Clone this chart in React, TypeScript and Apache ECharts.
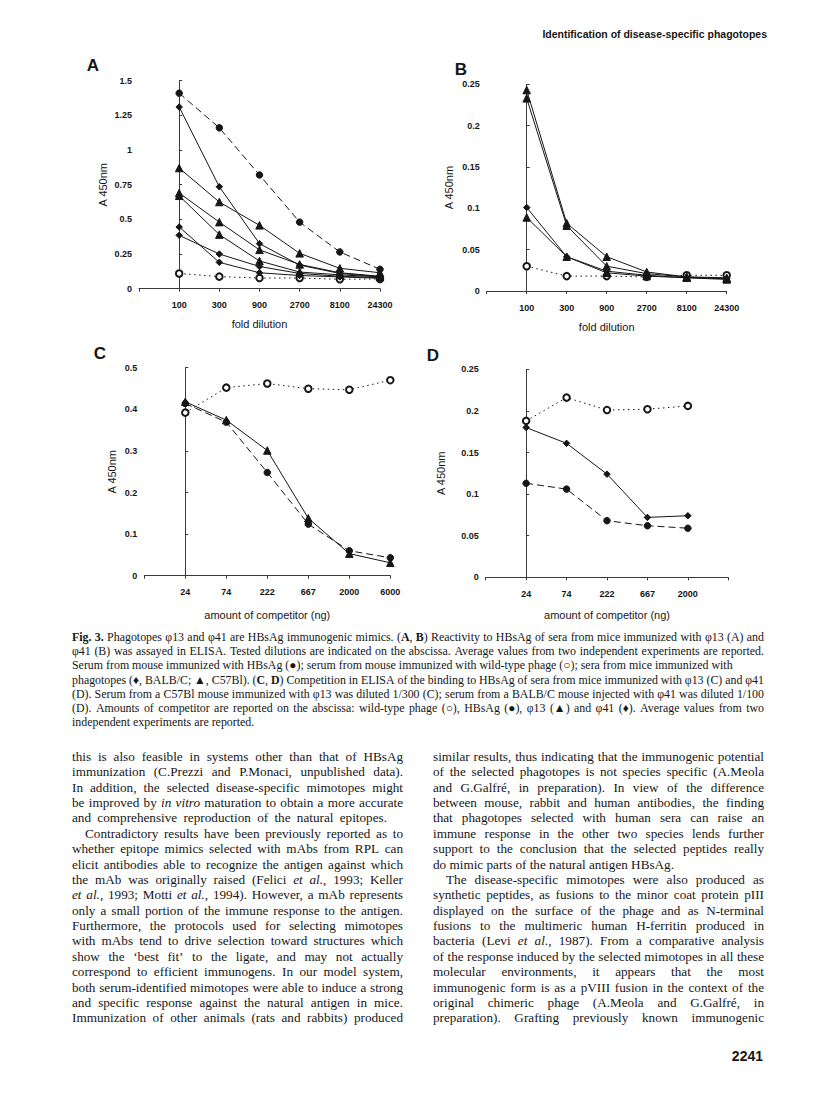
import React, { useEffect, useRef } from 'react';
import * as echarts from 'echarts';

// ---------- data ----------
const dilutions = ['100', '300', '900', '2700', '8100', '24300'];
const competitorC = ['24', '74', '222', '667', '2000', '6000'];
const competitorD = ['24', '74', '222', '667', '2000'];

// Panel A (phi13 immunized sera)
const aHBsAg = [1.41, 1.16, 0.82, 0.48, 0.265, 0.14];
const aWildType = [0.11, 0.087, 0.077, 0.077, 0.068, 0.07];
const aC57Bl1 = [0.87, 0.625, 0.457, 0.255, 0.147, 0.115];
const aC57Bl2 = [0.69, 0.48, 0.28, 0.175, 0.115, 0.09];
const aC57Bl3 = [0.67, 0.39, 0.2, 0.12, 0.1, 0.085];
const aBALB1 = [1.31, 0.735, 0.325, 0.17, 0.11, 0.085];
const aBALB2 = [0.445, 0.19, 0.115, 0.095, 0.085, 0.075];
const aBALB3 = [0.385, 0.25, 0.16, 0.11, 0.09, 0.08];

// Panel B (phi41 immunized sera)
const bWildType = [0.03, 0.018, 0.018, 0.017, 0.019, 0.019];
const bC57Bl1 = [0.243, 0.082, 0.0415, 0.023, 0.017, 0.016];
const bC57Bl2 = [0.233, 0.079, 0.03, 0.021, 0.017, 0.015];
const bC57Bl3 = [0.089, 0.0415, 0.022, 0.018, 0.016, 0.014];
const bBALB1 = [0.101, 0.0415, 0.024, 0.019, 0.016, 0.015];

// Panel C (competition, phi13)
const cWildType = [0.392, 0.452, 0.462, 0.4495, 0.447, 0.47];
const cHBsAg = [0.414, 0.369, 0.248, 0.124, 0.06, 0.043];
const cPhi13 = [0.418, 0.374, 0.301, 0.138, 0.053, 0.031];

// Panel D (competition, phi41)
const dWildType = [0.188, 0.216, 0.201, 0.202, 0.206];
const dHBsAg = [0.113, 0.106, 0.068, 0.062, 0.059];
const dPhi41 = [0.18, 0.161, 0.124, 0.072, 0.074];

// ---------- page text ----------
const headerText = 'Identification of disease-specific phagotopes';
const pageNumber = '2241';
const panelLetters = ['A', 'B', 'C', 'D'];

type TextLine = { text: string; indent?: number; fit?: number | 'natural' };

const captionLines: TextLine[] = [
  { text: '*Fig.* *3.* Phagotopes φ13 and φ41 are HBsAg immunogenic mimics. (*A*, *B*) Reactivity to HBsAg of sera from mice immunized with φ13 (A) and' },
  { text: 'φ41 (B) was assayed in ELISA. Tested dilutions are indicated on the abscissa. Average values from two independent experiments are reported.' },
  { text: 'Serum from mouse immunized with HBsAg (●); serum from mouse immunized with wild-type phage (○); sera from mice immunized with', fit: 'natural' },
  { text: 'phagotopes (♦, BALB/C; ▲, C57Bl). (*C*, *D*) Competition in ELISA of the binding to HBsAg of sera from mice immunized with φ13 (C) and φ41' },
  { text: '(D). Serum from a C57Bl mouse immunized with φ13 was diluted 1/300 (C); serum from a BALB/C mouse injected with φ41 was diluted 1/100' },
  { text: '(D). Amounts of competitor are reported on the abscissa: wild-type phage (○), HBsAg (●), φ13 (▲) and φ41 (♦). Average values from two' },
  { text: 'independent experiments are reported.', fit: 'natural' },
];

const bodyLeft: TextLine[] = [
  { text: 'this is also feasible in systems other than that of HBsAg' },
  { text: 'immunization (C.Prezzi and P.Monaci, unpublished data).' },
  { text: 'In addition, the selected disease-specific mimotopes might' },
  { text: 'be improved by _in_ _vitro_ maturation to obtain a more accurate' },
  { text: 'and comprehensive reproduction of the natural epitopes.', fit: 315 },
  { text: 'Contradictory results have been previously reported as to', indent: 13 },
  { text: 'whether epitope mimics selected with mAbs from RPL can' },
  { text: 'elicit antibodies able to recognize the antigen against which' },
  { text: 'the mAb was originally raised (Felici _et_ _al._, 1993; Keller' },
  { text: '_et_ _al._, 1993; Motti _et_ _al._, 1994). However, a mAb represents' },
  { text: 'only a small portion of the immune response to the antigen.' },
  { text: 'Furthermore, the protocols used for selecting mimotopes' },
  { text: 'with mAbs tend to drive selection toward structures which' },
  { text: 'show the ‘best fit’ to the ligate, and may not actually' },
  { text: 'correspond to efficient immunogens. In our model system,' },
  { text: 'both serum-identified mimotopes were able to induce a strong' },
  { text: 'and specific response against the natural antigen in mice.' },
  { text: 'Immunization of other animals (rats and rabbits) produced' },
];

const bodyRight: TextLine[] = [
  { text: 'similar results, thus indicating that the immunogenic potential' },
  { text: 'of the selected phagotopes is not species specific (A.Meola' },
  { text: 'and G.Galfré, in preparation). In view of the difference' },
  { text: 'between mouse, rabbit and human antibodies, the finding' },
  { text: 'that phagotopes selected with human sera can raise an' },
  { text: 'immune response in the other two species lends further' },
  { text: 'support to the conclusion that the selected peptides really' },
  { text: 'do mimic parts of the natural antigen HBsAg.', fit: 'natural' },
  { text: 'The disease-specific mimotopes were also produced as', indent: 13 },
  { text: 'synthetic peptides, as fusions to the minor coat protein pIII' },
  { text: 'displayed on the surface of the phage and as N-terminal' },
  { text: 'fusions to the multimeric human H-ferritin produced in' },
  { text: 'bacteria (Levi _et_ _al._, 1987). From a comparative analysis' },
  { text: 'of the response induced by the selected mimotopes in all these' },
  { text: 'molecular environments, it appears that the most' },
  { text: 'immunogenic form is as a pVIII fusion in the context of the' },
  { text: 'original chimeric phage (A.Meola and G.Galfré, in' },
  { text: 'preparation). Grafting previously known immunogenic' },
];

// ---------- styling ----------
const INK = '#161616';
const AXIS = '#3a3a3a';
const SANS = '"Liberation Sans", Arial, Helvetica, sans-serif';
const SERIF_NAME = '"Liberation Serif"';
const SERIF = '"Liberation Serif", "Times New Roman", serif';

type Seg = { t: string; b: boolean; i: boolean };

function parseWord(w: string): Seg[] {
  return w
    .split(/(\*[^*]+\*|_[^_]+_)/)
    .filter((p) => p.length > 0)
    .map((p) => {
      if (p.length > 2 && p[0] === '*' && p[p.length - 1] === '*') return { t: p.slice(1, -1), b: true, i: false };
      if (p.length > 2 && p[0] === '_' && p[p.length - 1] === '_') return { t: p.slice(1, -1), b: false, i: true };
      return { t: p, b: false, i: false };
    });
}

function layoutLine(
  ctx: CanvasRenderingContext2D,
  line: TextLine,
  x0: number,
  width: number,
  y: number,
  fs: number
) {
  const words = line.text.split(' ').filter(Boolean).map(parseWord);
  const fontOf = (s: Seg) => `${s.i ? 'italic' : 'normal'} ${s.b ? 'bold' : 'normal'} ${fs}px ${SERIF_NAME}`;
  const measure = (s: Seg) => {
    ctx.font = fontOf(s);
    return ctx.measureText(s.t).width;
  };
  ctx.font = fontOf({ t: ' ', b: false, i: false });
  const space = ctx.measureText(' ').width;
  const indent = line.indent || 0;
  const avail = (typeof line.fit === 'number' ? line.fit : width) - indent;
  const wordW = words.map((segs) => segs.reduce((a, s) => a + measure(s), 0));
  const total = wordW.reduce((a, b) => a + b, 0);
  const n = words.length;
  let gap = space;
  if (line.fit !== 'natural' && n > 1) gap = (avail - total) / (n - 1);
  let scale = 1;
  const minGap = space * 0.6;
  if (gap < minGap) {
    gap = minGap;
    scale = avail / (total + gap * (n - 1));
  }
  const children: any[] = [];
  let x = 0;
  words.forEach((segs) => {
    segs.forEach((s) => {
      children.push({
        type: 'text',
        x,
        y: 0,
        silent: true,
        style: {
          text: s.t,
          fill: INK,
          fontSize: fs,
          fontFamily: SERIF,
          fontWeight: s.b ? 'bold' : 'normal',
          fontStyle: s.i ? 'italic' : 'normal',
          align: 'left',
          textAlign: 'left',
          verticalAlign: 'middle',
          textVerticalAlign: 'middle',
        },
      });
      x += measure(s);
    });
    x += gap;
  });
  return { type: 'group', x: x0 + indent, y, scaleX: scale, silent: true, children };
}

function sansText(text: string, x: number, y: number, fs: number, weight: string, align: string) {
  return {
    type: 'text',
    x,
    y,
    silent: true,
    style: {
      text,
      fill: INK,
      fontSize: fs,
      fontFamily: SANS,
      fontWeight: weight,
      align,
      textAlign: align,
      verticalAlign: 'middle',
      textVerticalAlign: 'middle',
    },
  };
}

type Kind = 'hbs' | 'wt' | 'tri' | 'dia';

function makeSeries(name: string, axis: number, values: number[], kind: Kind) {
  const symbol = kind === 'hbs' ? 'circle' : kind === 'wt' ? 'emptyCircle' : kind === 'tri' ? 'triangle' : 'diamond';
  const size = kind === 'hbs' ? 6.5 : kind === 'wt' ? 6.5 : kind === 'tri' ? 7.5 : 6.5;
  const lineType: any = kind === 'hbs' ? [7, 4] : kind === 'wt' ? [1.5, 3.5] : 'solid';
  return {
    name,
    type: 'line',
    xAxisIndex: axis,
    yAxisIndex: axis,
    data: values.map((v, i) => [i, v]),
    symbol,
    symbolSize: size,
    showSymbol: true,
    silent: true,
    z: kind === 'wt' ? 2 : 3,
    lineStyle: { color: INK, width: 1, type: lineType },
    itemStyle: { color: INK, borderColor: INK, borderWidth: kind === 'wt' ? 0.8 : 1 },
    emphasis: { disabled: true },
  };
}

function xAxis(gridIndex: number, cats: string[], name: string, nameGap: number) {
  return {
    type: 'value',
    gridIndex,
    min: -1,
    max: 5,
    interval: 1,
    name,
    nameLocation: 'middle',
    nameGap,
    nameTextStyle: { fontFamily: SANS, fontSize: 11, color: INK },
    axisLine: { show: true, lineStyle: { color: AXIS, width: 1 } },
    axisTick: { show: true, length: 3, lineStyle: { color: AXIS, width: 1 } },
    axisLabel: {
      formatter: (v: number) => cats[Math.round(v)] ?? '',
      margin: 12,
      fontFamily: SANS,
      fontSize: 9,
      fontWeight: 'bold',
      color: INK,
      showMinLabel: true,
      showMaxLabel: true,
    },
    splitLine: { show: false },
  };
}

function yAxis(gridIndex: number, max: number, interval: number, nameGap: number) {
  return {
    type: 'value',
    gridIndex,
    min: 0,
    max,
    interval,
    name: 'A 450nm',
    nameLocation: 'middle',
    nameGap,
    nameRotate: 90,
    nameTextStyle: { fontFamily: SANS, fontSize: 11, color: INK },
    axisLine: { show: true, lineStyle: { color: AXIS, width: 1 } },
    axisTick: { show: true, inside: true, length: 3, lineStyle: { color: AXIS, width: 1 } },
    axisLabel: { margin: 7, fontFamily: SANS, fontSize: 9, fontWeight: 'bold', color: INK },
    splitLine: { show: false },
  };
}

function buildOption() {
  const canvas = document.createElement('canvas');
  const ctx = canvas.getContext('2d') as CanvasRenderingContext2D;

  const elements: any[] = [];
  elements.push(sansText(headerText, 767, 34, 10.5, 'bold', 'right'));
  elements.push(sansText(pageNumber, 763, 1056, 14, 'bold', 'right'));

  const letterPos = [
    [93, 65],
    [461, 69],
    [100, 353],
    [433, 355],
  ];
  panelLetters.forEach((l, i) => elements.push(sansText(l, letterPos[i][0], letterPos[i][1], 17, 'bold', 'center')));

  captionLines.forEach((ln, i) => elements.push(layoutLine(ctx, ln, 72, 692, 637 + i * 14.17, 11.9)));
  bodyLeft.forEach((ln, i) => elements.push(layoutLine(ctx, ln, 72, 331, 756.5 + i * 15.37, 13.2)));
  bodyRight.forEach((ln, i) => elements.push(layoutLine(ctx, ln, 433, 331, 756.5 + i * 15.37, 13.2)));

  return {
    animation: false,
    backgroundColor: '#ffffff',
    grid: [
      { left: 139, top: 80.7, width: 241, height: 208, outerBoundsMode: 'none' },
      { left: 486.7, top: 84.3, width: 240, height: 206.7, outerBoundsMode: 'none' },
      { left: 144.3, top: 367.7, width: 246, height: 208, outerBoundsMode: 'none' },
      { left: 485.7, top: 369.3, width: 242.6, height: 208, outerBoundsMode: 'none' },
    ],
    xAxis: [
      xAxis(0, dilutions, 'fold dilution', 30),
      xAxis(1, dilutions, 'fold dilution', 30),
      xAxis(2, competitorC, 'amount of competitor (ng)', 34),
      xAxis(3, competitorD, 'amount of competitor (ng)', 32),
    ],
    yAxis: [yAxis(0, 1.5, 0.25, 31), yAxis(1, 0.25, 0.05, 32), yAxis(2, 0.5, 0.1, 27), yAxis(3, 0.25, 0.05, 39)],
    series: [
      makeSeries('A wild-type', 0, aWildType, 'wt'),
      makeSeries('A HBsAg', 0, aHBsAg, 'hbs'),
      makeSeries('A C57Bl 1', 0, aC57Bl1, 'tri'),
      makeSeries('A C57Bl 2', 0, aC57Bl2, 'tri'),
      makeSeries('A C57Bl 3', 0, aC57Bl3, 'tri'),
      makeSeries('A BALB/C 1', 0, aBALB1, 'dia'),
      makeSeries('A BALB/C 2', 0, aBALB2, 'dia'),
      makeSeries('A BALB/C 3', 0, aBALB3, 'dia'),
      makeSeries('B wild-type', 1, bWildType, 'wt'),
      makeSeries('B C57Bl 1', 1, bC57Bl1, 'tri'),
      makeSeries('B C57Bl 2', 1, bC57Bl2, 'tri'),
      makeSeries('B C57Bl 3', 1, bC57Bl3, 'tri'),
      makeSeries('B BALB/C 1', 1, bBALB1, 'dia'),
      makeSeries('C wild-type', 2, cWildType, 'wt'),
      makeSeries('C HBsAg', 2, cHBsAg, 'hbs'),
      makeSeries('C phi13', 2, cPhi13, 'tri'),
      makeSeries('D wild-type', 3, dWildType, 'wt'),
      makeSeries('D HBsAg', 3, dHBsAg, 'hbs'),
      makeSeries('D phi41', 3, dPhi41, 'dia'),
    ],
    graphic: { elements },
  };
}

export default function App() {
  const ref = useRef<HTMLDivElement>(null);
  useEffect(() => {
    if (!ref.current) return;
    const chart = echarts.init(ref.current, undefined, { renderer: 'svg', width: 816, height: 1104 });
    chart.setOption(buildOption() as any);
    return () => chart.dispose();
  }, []);
  return (
    <div
      ref={ref}
      style={{ position: 'absolute', left: 0, top: 0, width: 816, height: 1104, background: '#fff' }}
    />
  );
}
